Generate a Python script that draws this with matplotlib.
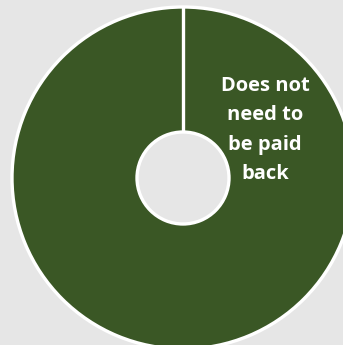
import matplotlib
matplotlib.use("Agg")
import matplotlib.pyplot as plt
import numpy as np

labels = ["Does not\nneed to\nbe paid\nback"]
shares = [100]

GREEN = "#3a5725"
BG = "#e6e6e6"

fig = plt.figure(figsize=(3.43, 3.45), dpi=100, facecolor=BG)
ax = fig.add_axes([0, 0, 1, 1])
ax.set_facecolor(BG)

cx, cy = 183, 167
r_out, r_in = 171, 46
ax.pie(shares, radius=r_out, center=(cx, cy), startangle=90, counterclock=False,
       colors=[GREEN], frame=True,
       wedgeprops=dict(width=r_out - r_in, edgecolor="white", linewidth=2.4))
ax.set_xlim(0, 343)
ax.set_ylim(0, 345)
ax.set_aspect("equal")
ax.axis("off")

# radial seam where the single slice starts
ang = np.deg2rad(90)
ax.plot([cx + r_in * np.cos(ang), cx + r_out * np.cos(ang)],
        [cy + r_in * np.sin(ang), cy + r_out * np.sin(ang)],
        color="white", lw=2.4, solid_capstyle="butt")

ax.text(265, 215, labels[0], ha="center", va="center", color="white",
        fontsize=14.5, fontweight="bold", family="Open Sans", linespacing=1.62)

fig.savefig("out.png", dpi=100, facecolor=BG)
